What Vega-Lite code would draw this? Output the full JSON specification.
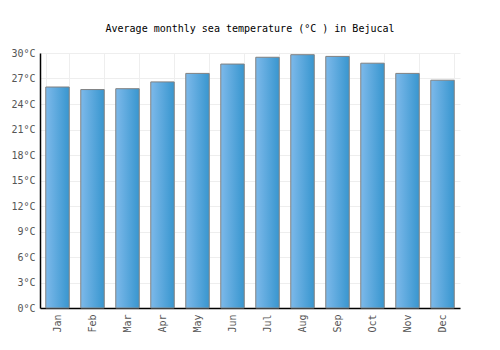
{
  "$schema": "https://vega.github.io/schema/vega-lite/v6.json",
  "width": 420,
  "height": 255,
  "autosize": {"type": "none"},
  "padding": {"left": 40, "top": 53, "right": 40, "bottom": 42},
  "background": "white",
  "title": {
    "text": "Average monthly sea temperature (°C ) in Bejucal",
    "font": "DejaVu Sans Mono",
    "fontSize": 10,
    "fontWeight": "normal",
    "color": "#000000",
    "anchor": "middle",
    "offset": 14
  },
  "data": {
    "values": [
      {"month": "Jan", "temp": 26.0},
      {"month": "Feb", "temp": 25.7},
      {"month": "Mar", "temp": 25.8},
      {"month": "Apr", "temp": 26.6},
      {"month": "May", "temp": 27.6},
      {"month": "Jun", "temp": 28.7},
      {"month": "Jul", "temp": 29.5},
      {"month": "Aug", "temp": 29.8},
      {"month": "Sep", "temp": 29.6},
      {"month": "Oct", "temp": 28.8},
      {"month": "Nov", "temp": 27.6},
      {"month": "Dec", "temp": 26.8}
    ]
  },
  "mark": {
    "type": "bar",
    "stroke": "#808080",
    "strokeWidth": 1,
    "color": {
      "gradient": "linear",
      "x1": 0, "y1": 0, "x2": 1, "y2": 0,
      "stops": [
        {"offset": 0, "color": "#7db9ea"},
        {"offset": 1, "color": "#3896cf"}
      ]
    }
  },
  "encoding": {
    "x": {
      "field": "month",
      "type": "nominal",
      "sort": null,
      "scale": {"paddingInner": 0.33, "paddingOuter": 0.165},
      "axis": {
        "title": null,
        "labelAngle": -90,
        "labelAlign": "right",
        "labelBaseline": "middle",
        "labelFont": "DejaVu Sans Mono",
        "labelFontSize": 10,
        "labelColor": "#555555",
        "labelPadding": 6,
        "ticks": false,
        "domainColor": "#000000",
        "domainWidth": 1.5,
        "grid": true,
        "gridColor": "#eeeeee",
        "tickBand": "extent"
      }
    },
    "y": {
      "field": "temp",
      "type": "quantitative",
      "scale": {"domain": [0, 30], "nice": false},
      "axis": {
        "title": null,
        "values": [0, 3, 6, 9, 12, 15, 18, 21, 24, 27, 30],
        "labelExpr": "datum.value + '°C'",
        "labelFont": "DejaVu Sans Mono",
        "labelFontSize": 10,
        "labelColor": "#555555",
        "labelPadding": 5,
        "ticks": false,
        "domainColor": "#000000",
        "domainWidth": 1.5,
        "gridColor": "#eeeeee"
      }
    }
  },
  "config": {"view": {"stroke": null}}
}
